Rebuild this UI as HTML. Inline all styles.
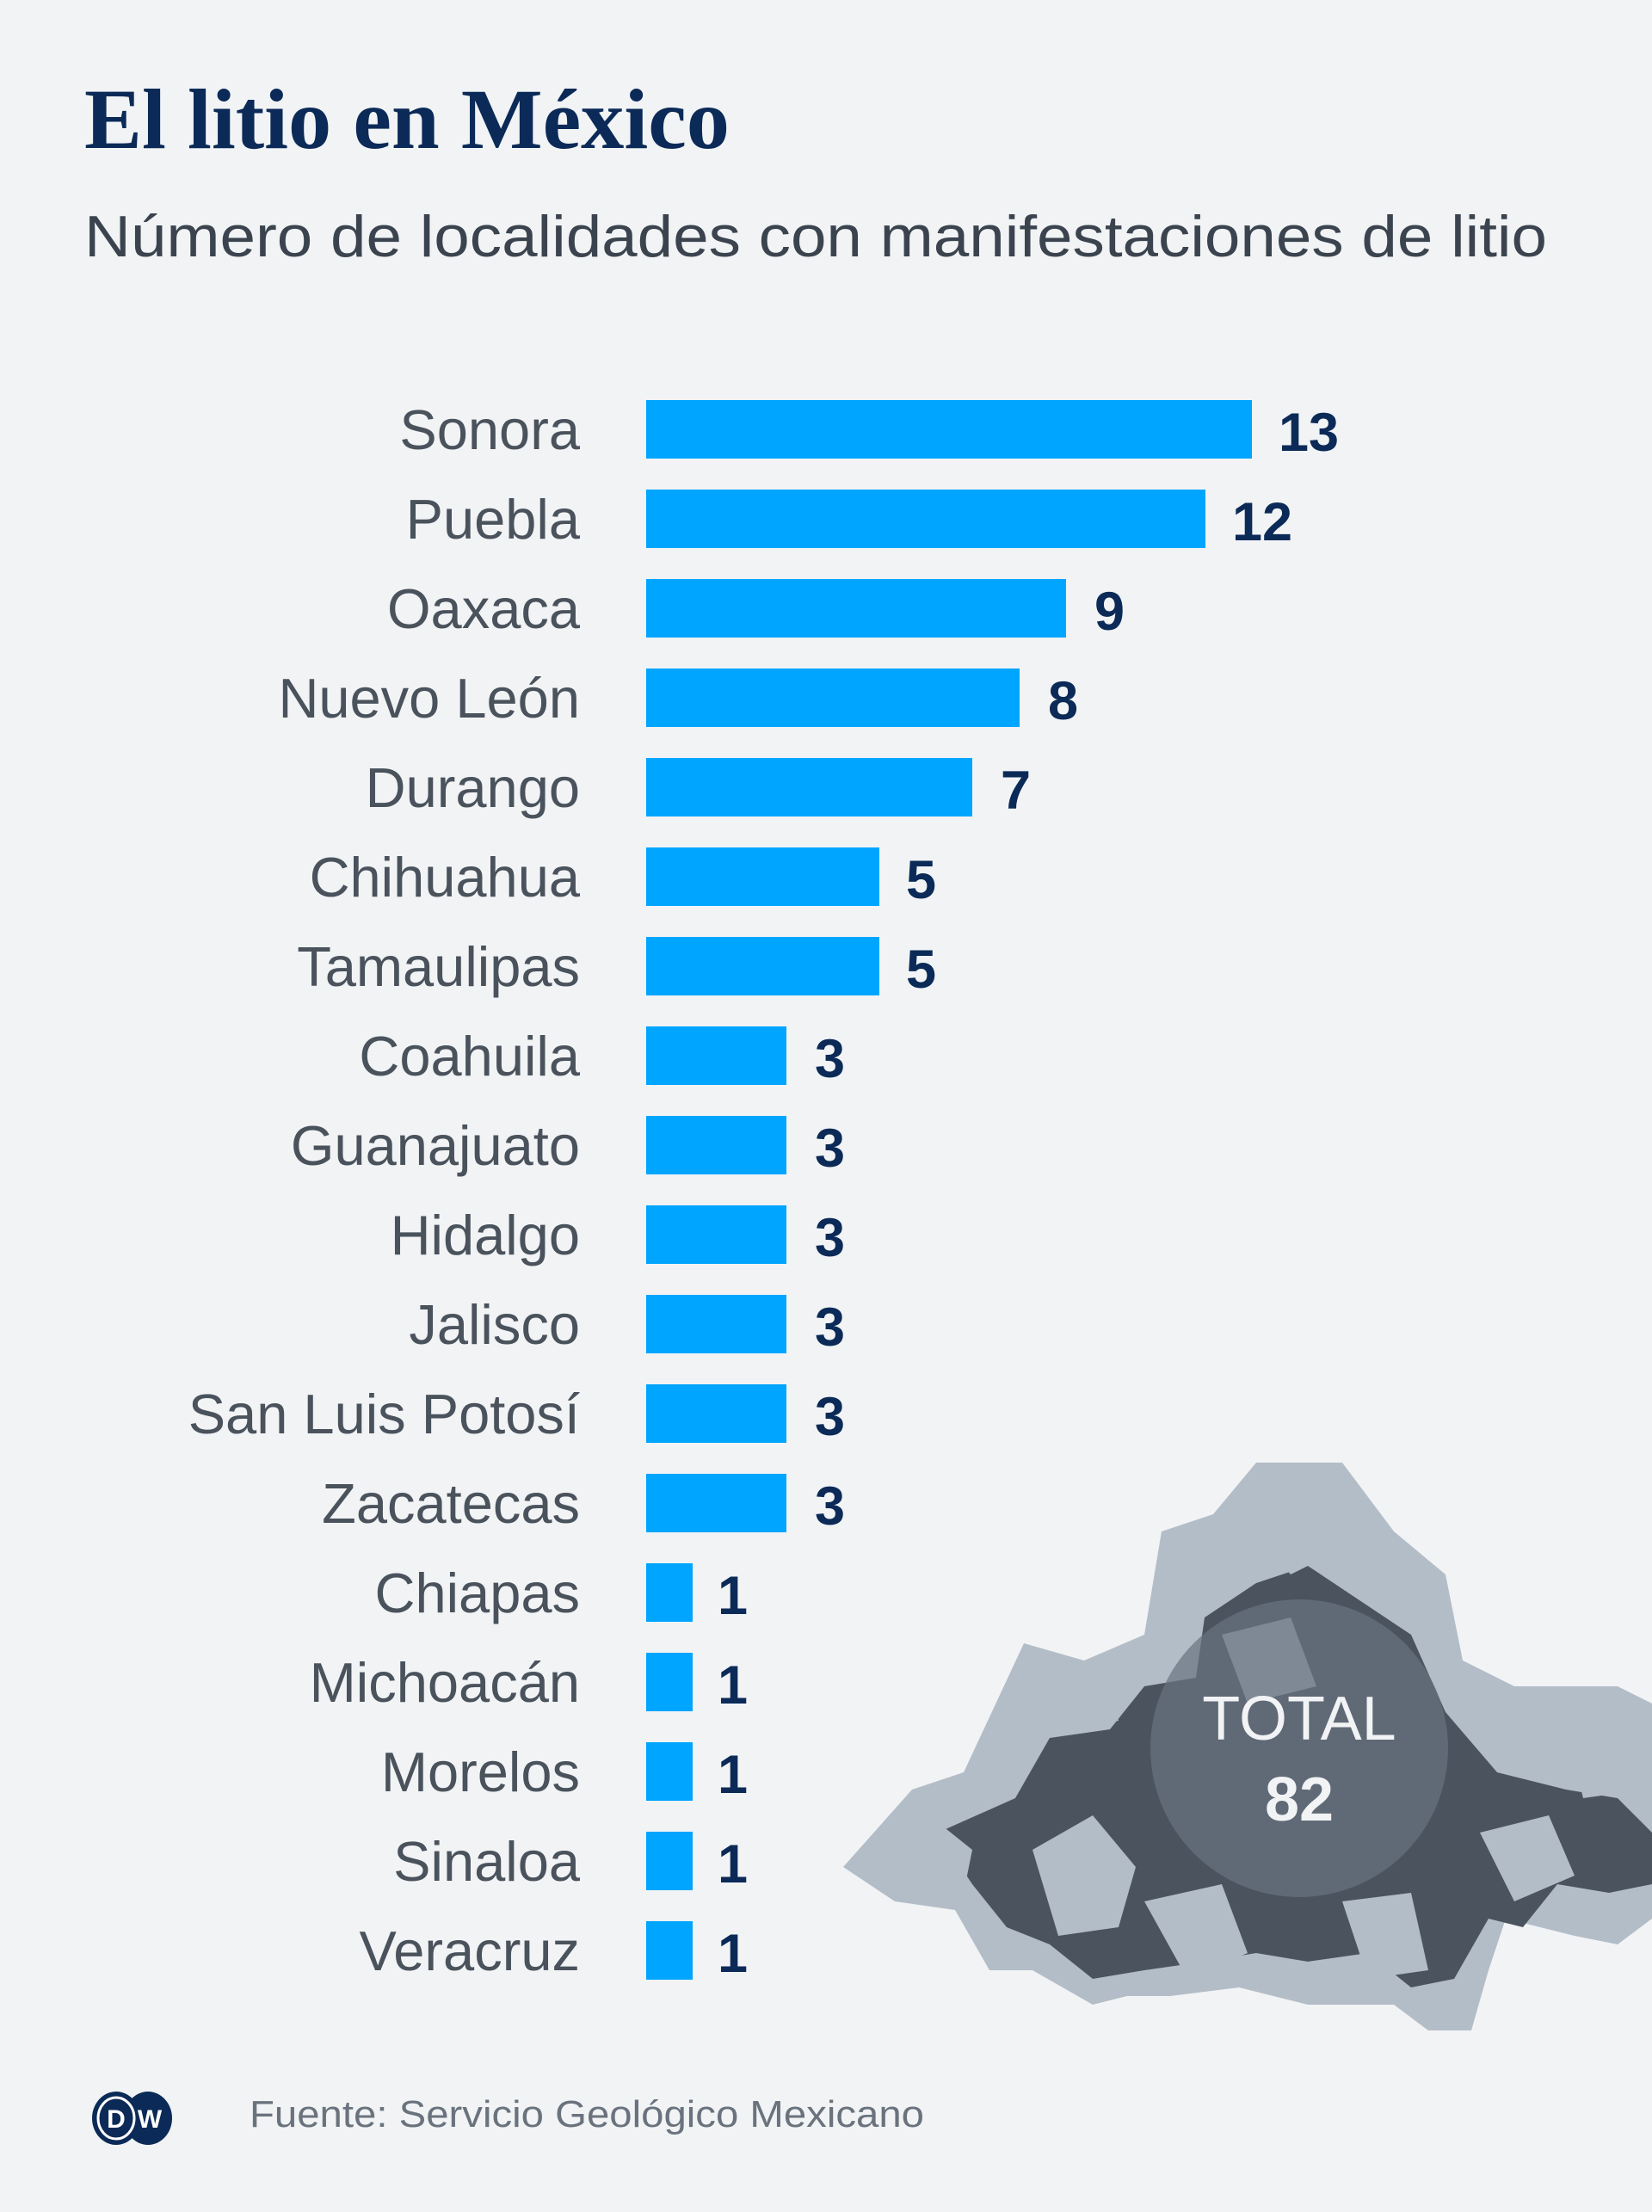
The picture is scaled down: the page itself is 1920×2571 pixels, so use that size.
<!DOCTYPE html>
<html><head><meta charset="utf-8"><style>
html,body{margin:0;padding:0;background:#f1f3f5}
svg{display:block}
</style></head><body>
<svg width="1920" height="2571" viewBox="0 0 1920 2571" xmlns="http://www.w3.org/2000/svg">
<rect width="1920" height="2571" fill="#f1f3f5"/>
<text x="98" y="172" font-family="Liberation Serif, serif" font-weight="bold" font-size="100" fill="#0b2a57" textLength="750" lengthAdjust="spacingAndGlyphs">El litio en México</text>
<text x="98" y="298" font-family="Liberation Sans, sans-serif" font-size="68" fill="#3b444e" textLength="1700" lengthAdjust="spacingAndGlyphs">Número de localidades con manifestaciones de litio</text>

<g>
<path fill="#b3bdc7" d="M980,2170 L1060,2080 L1120,2060 L1190,1910 L1260,1930 L1330,1900 L1350,1780 L1410,1760 L1460,1700 L1560,1700 L1620,1780 L1680,1830 L1700,1930 L1760,1960 L1800,1960 L1880,1960 L1920,1980 L1920,2230 L1880,2260 L1830,2250 L1750,2230 L1730,2290 L1710,2360 L1660,2360 L1620,2330 L1520,2330 L1440,2310 L1360,2320 L1310,2320 L1270,2330 L1200,2290 L1150,2290 L1110,2220 L1040,2210 Z"/>
<path fill="#4a535e" d="M1090,2130 L1180,2090 L1220,2020 L1290,2010 L1330,1960 L1390,1950 L1400,1880 L1460,1840 L1520,1820 L1580,1860 L1640,1900 L1680,1990 L1740,2060 L1820,2080 L1880,2090 L1920,2130 L1920,2190 L1870,2200 L1810,2190 L1770,2240 L1730,2230 L1690,2300 L1640,2310 L1590,2270 L1520,2280 L1460,2270 L1400,2280 L1330,2290 L1270,2300 L1220,2260 L1170,2240 L1130,2190 Z"/>
<path fill="#b3bdc7" d="M1020,2160 L1080,2110 L1130,2150 L1120,2200 L1060,2200 Z"/>
<path fill="#b3bdc7" d="M1200,2150 L1270,2110 L1320,2170 L1300,2240 L1230,2250 Z"/>
<path fill="#b3bdc7" d="M1330,2210 L1420,2190 L1450,2270 L1380,2300 Z"/>
<path fill="#b3bdc7" d="M1560,2210 L1640,2200 L1660,2290 L1590,2300 Z"/>
<path fill="#b3bdc7" d="M1720,2130 L1800,2110 L1830,2180 L1760,2210 Z"/>
<path fill="#b3bdc7" d="M1820,2010 L1900,2000 L1910,2080 L1840,2090 Z"/>
<path fill="#b3bdc7" d="M1440,1760 L1510,1730 L1560,1800 L1500,1830 Z"/>
<path fill="#b3bdc7" d="M1220,1960 L1290,1940 L1300,2000 L1240,2010 Z"/>
<path fill="#b3bdc7" d="M1420,1900 L1500,1880 L1530,1960 L1450,1980 Z"/>
<path fill="#4a535e" d="M1560,1960 L1620,1940 L1640,2010 L1580,2030 Z"/>
<circle cx="1510" cy="2032" r="173" fill="#6a7480" fill-opacity="0.7"/>
<text x="1510" y="2022" text-anchor="middle" font-family="Liberation Sans, sans-serif" font-size="72" fill="#f1f3f5">TOTAL</text>
<text x="1510" y="2116" text-anchor="middle" font-family="Liberation Sans, sans-serif" font-weight="bold" font-size="72" fill="#f1f3f5">82</text>
</g>

<g font-family="Liberation Sans, sans-serif" font-size="65">
<g fill="#00a5ff">
<rect x="751" y="465" width="704" height="68"/>
<rect x="751" y="569" width="650" height="68"/>
<rect x="751" y="673" width="488" height="68"/>
<rect x="751" y="777" width="434" height="68"/>
<rect x="751" y="881" width="379" height="68"/>
<rect x="751" y="985" width="271" height="68"/>
<rect x="751" y="1089" width="271" height="68"/>
<rect x="751" y="1193" width="163" height="68"/>
<rect x="751" y="1297" width="163" height="68"/>
<rect x="751" y="1401" width="163" height="68"/>
<rect x="751" y="1505" width="163" height="68"/>
<rect x="751" y="1609" width="163" height="68"/>
<rect x="751" y="1713" width="163" height="68"/>
<rect x="751" y="1817" width="54" height="68"/>
<rect x="751" y="1921" width="54" height="68"/>
<rect x="751" y="2025" width="54" height="68"/>
<rect x="751" y="2129" width="54" height="68"/>
<rect x="751" y="2233" width="54" height="68"/>
</g>
<g fill="#4a525c" text-anchor="end">
<text x="674" y="522">Sonora</text>
<text x="674" y="626">Puebla</text>
<text x="674" y="730">Oaxaca</text>
<text x="674" y="834">Nuevo León</text>
<text x="674" y="938">Durango</text>
<text x="674" y="1042">Chihuahua</text>
<text x="674" y="1146">Tamaulipas</text>
<text x="674" y="1250">Coahuila</text>
<text x="674" y="1354">Guanajuato</text>
<text x="674" y="1458">Hidalgo</text>
<text x="674" y="1562">Jalisco</text>
<text x="674" y="1666">San Luis Potosí</text>
<text x="674" y="1770">Zacatecas</text>
<text x="674" y="1874">Chiapas</text>
<text x="674" y="1978">Michoacán</text>
<text x="674" y="2082">Morelos</text>
<text x="674" y="2186">Sinaloa</text>
<text x="674" y="2290">Veracruz</text>
</g>
<g fill="#0b2a57" font-weight="bold" font-size="63">
<text x="1486" y="524">13</text>
<text x="1432" y="628">12</text>
<text x="1272" y="732">9</text>
<text x="1218" y="836">8</text>
<text x="1163" y="940">7</text>
<text x="1053" y="1044">5</text>
<text x="1053" y="1148">5</text>
<text x="947" y="1252">3</text>
<text x="947" y="1356">3</text>
<text x="947" y="1460">3</text>
<text x="947" y="1564">3</text>
<text x="947" y="1668">3</text>
<text x="947" y="1772">3</text>
<text x="834" y="1876">1</text>
<text x="834" y="1980">1</text>
<text x="834" y="2084">1</text>
<text x="834" y="2188">1</text>
<text x="834" y="2292">1</text>
</g>
</g>

<ellipse cx="172" cy="2462" rx="28" ry="31" fill="#0b2a57"/>
<ellipse cx="135" cy="2462" rx="28" ry="31" fill="#0b2a57"/>
<ellipse cx="135" cy="2462" rx="21" ry="24" fill="none" stroke="#fff" stroke-width="3"/>
<text x="135" y="2473" text-anchor="middle" font-family="Liberation Sans, sans-serif" font-weight="bold" font-size="30" fill="#fff">D</text>
<text x="174" y="2473" text-anchor="middle" font-family="Liberation Sans, sans-serif" font-weight="bold" font-size="30" fill="#fff">W</text>
<text x="290" y="2472" font-family="Liberation Sans, sans-serif" font-size="44" fill="#6a737d" textLength="784" lengthAdjust="spacingAndGlyphs">Fuente: Servicio Geológico Mexicano</text>
</svg>
</body></html>
